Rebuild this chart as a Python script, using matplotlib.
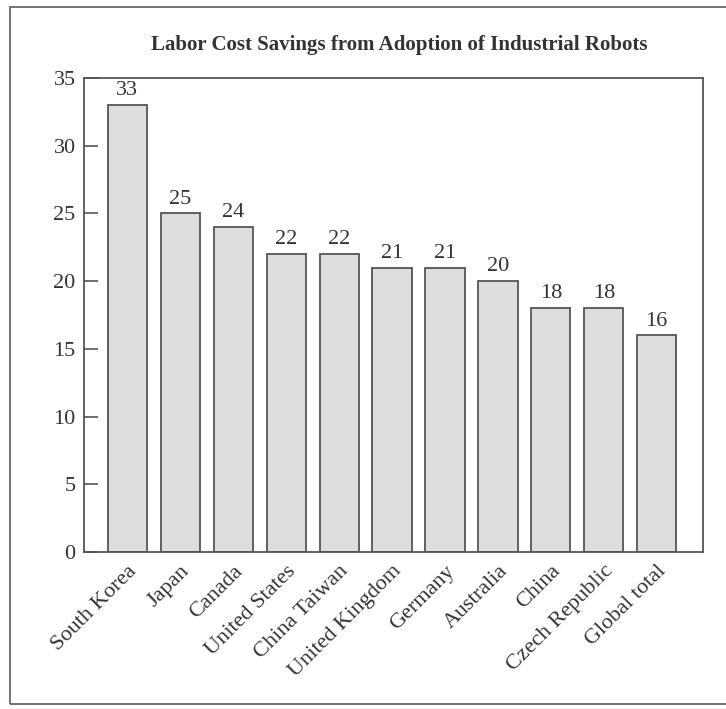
import numpy as np
import matplotlib.pyplot as plt
from matplotlib.patches import Rectangle

# data
countries = ["South Korea", "Japan", "Canada", "United States", "China Taiwan",
             "United Kingdom", "Germany", "Australia", "China", "Czech Republic",
             "Global total"]
savings = [33, 25, 24, 22, 22, 21, 21, 20, 18, 18, 16]
yticks = [0, 5, 10, 15, 20, 25, 30, 35]

plt.rcParams['font.family'] = ['Liberation Serif', 'DejaVu Serif']

fig = plt.figure(figsize=(7.26, 7.09), dpi=100)
ax = fig.add_axes([0.1157, 0.2214, 0.8523, 0.6686])

x = np.arange(len(countries))
ax.bar(x, savings, width=0.74, color='#dedede', edgecolor='#555555', linewidth=1.3)
for xi, v in zip(x, savings):
    ax.text(xi, v + 0.35, str(v), ha='center', va='bottom', fontsize=16, color='#333333')

ax.set_xlim(-0.82, 10.87)
ax.set_ylim(0, 35)
ax.set_yticks(yticks)
ax.tick_params(axis='y', direction='in', length=10, width=1.2, labelsize=16,
               colors='#555555', labelcolor='#333333', pad=6)
ax.set_xticks(x)
ax.set_xticklabels(countries, rotation=45, ha='right', rotation_mode='anchor',
                   fontsize=16, color='#333333')
ax.tick_params(axis='x', length=0, pad=7)
for s in ax.spines.values():
    s.set_color('#555555')
    s.set_linewidth(1.3)

fig.text(0.55, 0.9365, "Labor Cost Savings from Adoption of Industrial Robots",
         ha='center', va='center', fontsize=15, fontweight='bold', color='#333333')

# outer frame around the figure
fig.patches.append(Rectangle((10 / 726, 1 - 704 / 709), 1.0, (704 - 7) / 709,
                             transform=fig.transFigure, fill=False,
                             edgecolor='#666666', linewidth=1.3))

fig.savefig('out.png', dpi=100)
